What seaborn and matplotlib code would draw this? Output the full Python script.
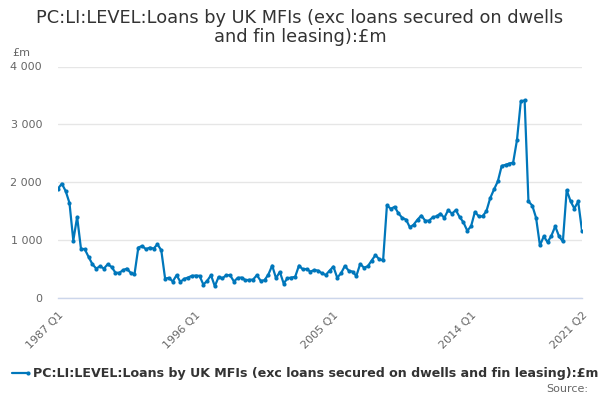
import matplotlib
matplotlib.use("Agg")
import matplotlib.pyplot as plt
import seaborn as sns
import pandas as pd
from matplotlib.ticker import FuncFormatter, FixedLocator

title = "PC:LI:LEVEL:Loans by UK MFIs (exc loans secured on dwells\nand fin leasing):£m"
series_name = "PC:LI:LEVEL:Loans by UK MFIs (exc loans secured on dwells and fin leasing):£m"

quarters = [f"{y} Q{q}" for y in range(1987, 2022) for q in range(1, 5)][:138]

values = [
    1885, 1971, 1844, 1637, 986, 1395, 847, 836,
    703, 576, 501, 542, 501, 576, 530, 432,
    426, 473, 501, 426, 403, 865, 893, 836,
    865, 847, 922, 818, 329, 340, 277, 386,
    271, 323, 346, 375, 380, 375, 225, 288,
    386, 196, 357, 334, 386, 386, 277, 340,
    346, 300, 305, 311, 386, 288, 300, 398,
    553, 334, 444, 242, 334, 346, 357, 553,
    488, 494, 448, 477, 465, 419, 390, 465,
    535, 343, 419, 547, 465, 448, 372, 581,
    517, 541, 640, 733, 663, 645, 1599, 1535,
    1570, 1459, 1378, 1349, 1215, 1262, 1349, 1419,
    1331, 1331, 1390, 1407, 1453, 1378, 1512, 1453,
    1512, 1395, 1302, 1157, 1233, 1483, 1407, 1407,
    1494, 1721, 1872, 2012, 2279, 2297, 2320, 2337,
    2727, 3395, 3413, 1663, 1593, 1378, 901, 1058,
    959, 1070, 1233, 1058, 971, 1860, 1669, 1541,
    1663, 1157,
]

tick_idx = list(range(0, 127, 9)) + [137]
label_idx = [0, 36, 72, 108, 137]
y_ticks = [0, 1000, 2000, 3000, 4000]

df = pd.DataFrame({"i": range(len(values)), "value": values})

sns.set_theme(style="white")
plt.rcParams["font.family"] = ["DejaVu Sans"]

line_color = "#0077bb"
grey = "#666666"
dark = "#333333"
axis_col = "#ccd6eb"

fig = plt.figure(figsize=(6, 4), dpi=100)
ax = fig.add_axes([58 / 600, 1 - 297.5 / 400, 524 / 600, 231 / 400])

sns.lineplot(data=df, x="i", y="value", ax=ax, color=line_color, linewidth=1.6,
             marker="o", markersize=3, markeredgewidth=0)

ax.set_xlim(0, 137)
ax.set_ylim(0, 4000)
ax.set_xlabel("")
ax.set_ylabel("")

ax.yaxis.set_major_locator(FixedLocator(y_ticks))
ax.yaxis.set_major_formatter(FuncFormatter(lambda v, p: f"{int(v):,}".replace(",", " ")))
ax.tick_params(axis="y", length=0, pad=11.5, labelsize=8, labelcolor=grey)
ax.grid(axis="y", color="#e6e6e6", linewidth=1)
ax.set_axisbelow(True)

ax.set_xticks(tick_idx)
ax.set_xticklabels([quarters[i] if i in label_idx else "" for i in tick_idx],
                   rotation=45, ha="right", rotation_mode="anchor")
ax.tick_params(axis="x", length=7, width=1, color=axis_col, labelsize=8,
               labelcolor=grey, pad=2, direction="out")

for s in ["top", "right", "left"]:
    ax.spines[s].set_visible(False)
ax.spines["bottom"].set_color(axis_col)
ax.spines["bottom"].set_linewidth(1)

fig.text(0.5, 1 - 9 / 400, title, ha="center", va="top", fontsize=12.8,
         color=dark, linespacing=1.08)
fig.text(12 / 600, 1 - 53 / 400, "£m", ha="left", va="center", fontsize=8, color=grey)

# legend
fig.lines.append(plt.Line2D([12 / 600, 28 / 600], [1 - 373 / 400, 1 - 373 / 400],
                            transform=fig.transFigure, color=line_color, linewidth=1.6,
                            marker="o", markersize=3, markevery=[1], markeredgewidth=0))
fig.text(33 / 600, 1 - 373 / 400, series_name, ha="left", va="center",
         fontsize=9.1, fontweight="bold", color=dark)
fig.text(588 / 600, 1 - 389 / 400, "Source:", ha="right", va="center",
         fontsize=8, color=grey)

fig.savefig("out.png", dpi=100)
